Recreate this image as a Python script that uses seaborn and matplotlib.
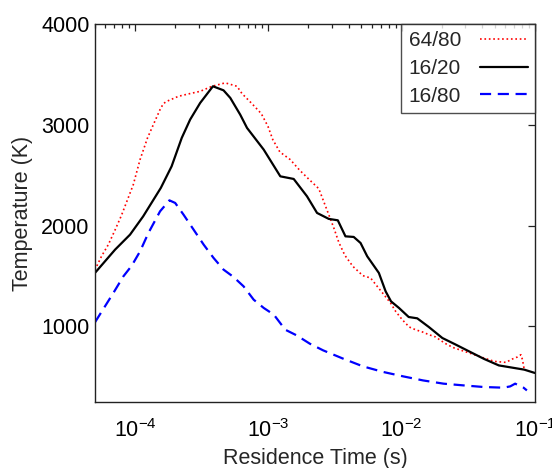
import numpy as np
import pandas as pd
import matplotlib
matplotlib.use("Agg")
import matplotlib.pyplot as plt
import seaborn as sns

# ---- data ----
t_6480 = [5.0e-5, 5.6e-5, 6.3e-5, 7.1e-5, 7.9e-5, 8.4e-5, 9.7e-5, 1.09e-4, 1.24e-4, 1.39e-4,
          1.54e-4, 1.63e-4, 1.73e-4, 2.12e-4, 2.59e-4, 3.08e-4, 3.78e-4, 4.75e-4, 5.82e-4,
          6.34e-4, 7.53e-4, 8.85e-4, 9.93e-4, 1.08e-3, 1.22e-3, 1.46e-3, 1.72e-3, 2.03e-3,
          2.39e-3, 2.60e-3, 2.86e-3, 3.10e-3, 3.38e-3, 3.75e-3, 4.31e-3, 5.12e-3, 5.85e-3,
          6.56e-3, 7.36e-3, 8.26e-3, 9.02e-3, 1.01e-2, 1.14e-2, 1.27e-2, 1.43e-2, 1.60e-2,
          1.80e-2, 1.96e-2, 2.20e-2, 2.48e-2, 3.12e-2, 3.93e-2, 4.95e-2, 6.05e-2, 6.79e-2,
          7.41e-2, 7.85e-2, 8.07e-2, 8.32e-2]
T_6480 = [1560, 1695, 1811, 1960, 2100, 2191, 2406, 2654, 2869, 3018,
          3150, 3209, 3232, 3282, 3309, 3331, 3381, 3415, 3381,
          3309, 3209, 3110, 2984, 2852, 2730, 2654, 2548, 2455,
          2366, 2240, 2098, 1976, 1833, 1705, 1595, 1503, 1480,
          1397, 1315, 1232, 1149, 1067, 994, 967, 945, 918,
          895, 861, 819, 786, 742, 697, 653, 643, 677,
          697, 719, 670, 571]

t_1620 = [5.0e-5, 7.08e-5, 9.17e-5, 1.15e-4, 1.56e-4, 1.88e-4, 2.24e-4, 2.59e-4, 3.08e-4,
          3.84e-4, 4.61e-4, 5.18e-4, 6.15e-4, 6.92e-4, 9.23e-4, 1.23e-3, 1.55e-3, 1.95e-3,
          2.32e-3, 2.84e-3, 3.32e-3, 3.79e-3, 4.37e-3, 4.92e-3, 5.52e-3, 6.75e-3, 7.59e-3,
          8.33e-3, 9.55e-3, 1.13e-2, 1.31e-2, 1.60e-2, 2.02e-2, 2.55e-2, 3.21e-2, 4.16e-2,
          5.36e-2, 6.61e-2, 8.32e-2, 1.0e-1]
T_1620 = [1530, 1761, 1910, 2091, 2373, 2587, 2869, 3051, 3216,
          3381, 3341, 3266, 3100, 2968, 2753, 2488, 2462, 2290,
          2125, 2066, 2052, 1893, 1887, 1827, 1695, 1530, 1347,
          1248, 1183, 1093, 1080, 994, 885, 819, 752, 677,
          613, 593, 571, 538]

t_1680 = [5.0e-5, 6.87e-5, 8.17e-5, 9.44e-5, 1.09e-4, 1.26e-4, 1.54e-4, 1.81e-4, 2.00e-4,
          2.31e-4, 2.75e-4, 3.27e-4, 3.88e-4, 4.61e-4, 5.48e-4, 6.52e-4, 7.76e-4, 9.23e-4,
          1.10e-3, 1.34e-3, 1.63e-3, 2.05e-3, 2.58e-3, 3.64e-3, 5.14e-3, 7.28e-3, 1.03e-2,
          1.45e-2, 2.06e-2, 2.90e-2, 4.11e-2, 5.81e-2, 6.53e-2, 7.11e-2, 8.22e-2, 8.71e-2]
T_1680 = [1040, 1331, 1496, 1602, 1744, 1927, 2141, 2250, 2224,
          2108, 1959, 1811, 1679, 1563, 1490, 1397, 1265, 1183,
          1116, 967, 911, 828, 762, 680, 603, 548, 504,
          464, 432, 415, 399, 392, 405, 432, 392, 365]

labels = ["64/80", "16/20", "16/80"]
xticks = [1e-4, 1e-3, 1e-2, 1e-1]
yticks = [1000, 2000, 3000, 4000]

df = pd.concat([
    pd.DataFrame({"t": t_6480, "T": T_6480, "case": labels[0]}),
    pd.DataFrame({"t": t_1620, "T": T_1620, "case": labels[1]}),
    pd.DataFrame({"t": t_1680, "T": T_1680, "case": labels[2]}),
], ignore_index=True)

sns.set_theme(style="white")
plt.rcParams["font.family"] = ["Liberation Sans", "DejaVu Sans"]
plt.rcParams["mathtext.fontset"] = "custom"
plt.rcParams["mathtext.rm"] = "Liberation Sans"
plt.rcParams["mathtext.it"] = "Liberation Sans"

fig = plt.figure(figsize=(5.52, 4.68), dpi=100)
ax = fig.add_axes([0.172, 0.141, 0.797, 0.808])

styles = {
    labels[0]: dict(color="#ff0000", linestyle=(0, (1, 1.65)), linewidth=1.2),
    labels[1]: dict(color="black", linestyle="-", linewidth=1.6),
    labels[2]: dict(color="#0000ff", linestyle=(0, (5, 3)), linewidth=1.6),
}
for lab in labels:
    sub = df[df["case"] == lab]
    sns.lineplot(data=sub, x="t", y="T", ax=ax, label=lab, estimator=None,
                 sort=False, **styles[lab])

ax.set_xscale("log")
ax.set_xlim(5e-5, 1e-1)
ax.set_ylim(250, 4000)
ax.set_xticks(xticks)
ax.set_yticks(yticks)
ax.tick_params(which="both", direction="in", top=True, right=True,
               colors="#222222", labelcolor="black", labelsize=15.5)
ax.tick_params(which="major", length=5, width=0.9)
ax.tick_params(which="minor", length=3, width=0.9)
ax.tick_params(axis="x", which="both", pad=12)
ax.tick_params(axis="y", which="both", pad=4)
for s in ax.spines.values():
    s.set_color("#222222")
    s.set_linewidth(1.0)

ax.set_xlabel("Residence Time (s)", fontsize=15.5)
ax.set_ylabel("Temperature (K)", fontsize=15.5)
ax.xaxis.set_label_coords(0.5, -0.122)
ax.yaxis.set_label_coords(-0.141, 0.5)

leg = ax.legend(loc="upper right", markerfirst=False, fontsize=15,
                frameon=True, fancybox=False, borderaxespad=0, handlelength=2.3,
                labelspacing=0.42, borderpad=0.35, handletextpad=0.9)
leg.get_frame().set_edgecolor("#222222")
leg.get_frame().set_linewidth(1.0)

fig.savefig("out.png", dpi=100, facecolor="white")
